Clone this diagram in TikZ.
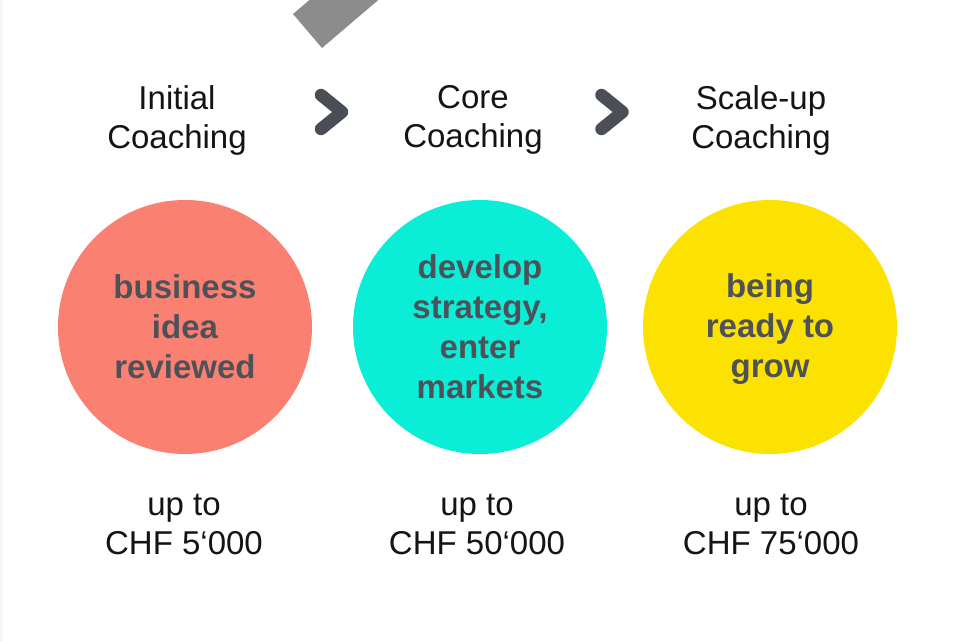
\documentclass[tikz,border=0pt]{standalone}
\usepackage{fontspec}
\setmainfont{Liberation Sans}
\definecolor{salmonc}{RGB}{250,128,114}
\definecolor{cyanc}{RGB}{10,238,216}
\definecolor{yellowc}{RGB}{252,226,0}
\definecolor{inktext}{RGB}{78,82,88}
\definecolor{chev}{RGB}{74,79,86}
\definecolor{bandgray}{RGB}{140,140,140}
\definecolor{edgegray}{RGB}{246,246,246}
\tikzset{
  stage/.style={circle, minimum size=254pt, inner sep=0pt},
  stagetext/.style={text=inktext, align=center, inner sep=0pt,
    font=\fontsize{33}{40}\bfseries\selectfont},
  heading/.style={align=center, text=black!92, inner sep=0pt,
    font=\fontsize{33}{39}\selectfont},
  amount/.style={align=center, text=black!92, inner sep=0pt,
    font=\fontsize{33}{39}\selectfont},
  chevron/.style={draw=chev, line width=12.5pt, line cap=round, line join=round}
}
\begin{document}
\begin{tikzpicture}[x=1pt, y=-1pt]
\useasboundingbox (0,0) rectangle (961,642);
\fill[white] (0,0) rectangle (961,642);
\fill[edgegray] (0,0) rectangle (3,642);
\begin{scope}
  \clip (0,0) rectangle (961,642);
  \fill[bandgray] (293,14) -- (322,48) -- (390,-10) -- (361,-44) -- cycle;
\end{scope}
% headings
\node[heading] (h1) at (177,120) {Initial\\Coaching};
\node[heading] (h2) at (473,120) {Core\\Coaching};
\node[heading] (h3) at (761,120) {Scale-up\\Coaching};
% chevrons
\draw[chevron] (321,95) -- (342,112) -- (321,129);
\draw[chevron] (601.5,95) -- (622.5,112) -- (601.5,129);
% circles
\node[stage, fill=salmonc] (c1) at (185,327) {};
\node[stage, fill=cyanc] (c2) at (480,327) {};
\node[stage, fill=yellowc] (c3) at (770,327) {};
\node[stagetext] (t1) at (185,327) {business\\idea\\reviewed};
\node[stagetext] (t2) at (480,327) {develop\\strategy,\\enter\\markets};
\node[stagetext] (t3) at (770,329) {being\\ready to\\grow};
% amounts
\node[amount] (a1) at (184,524) {up to\\CHF 5‘000};
\node[amount] (a2) at (477,524) {up to\\CHF 50‘000};
\node[amount] (a3) at (771,524) {up to\\CHF 75‘000};
\end{tikzpicture}
\end{document}
